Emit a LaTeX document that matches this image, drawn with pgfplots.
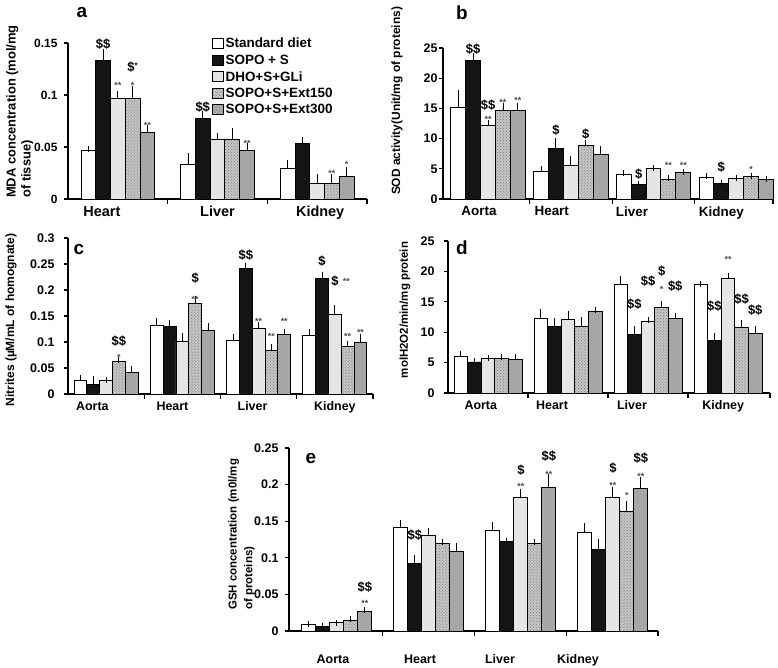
\documentclass[border=0pt]{standalone}
\usepackage{fontspec}
\setmainfont{Liberation Sans}
\usepackage{pgfplots}
\pgfplotsset{compat=1.18}
\usepackage{pgfplotstable}
\usetikzlibrary{patterns}

\newcommand{\fs}[1]{\bfseries\fontsize{#1}{#1}\selectfont}
% significance marks
\newcommand{\dol}[3]{\node[anchor=south,inner sep=0pt,font=\fs{13}] at (axis cs:#1,#2) {#3};}
\newcommand{\st}[3]{\node[anchor=south,inner sep=0pt,font=\fs{9},text=black!70] at (axis cs:#1,#2) {#3};}

% columns: value and (+) error for each diet group
\pgfplotstableread{
x sd sde so soe dh dhe ea eae eb ebe
1 0.047 0.001 0.133 0.008 0.097 0.004 0.097 0.009 0.064 0.004
2 0.033 0.008 0.077 0.005 0.057 0.004 0.057 0.008 0.047 0.004
3 0.029 0.006 0.053 0.004 0.015 0.006 0.015 0.006 0.022 0.006
}\tabA
\pgfplotstableread{
x sd sde so soe dh dhe ea eae eb ebe
1 15.2 2.4 22.9 0.8 12.2 0.4 14.7 0.7 14.7 0.7
2 4.6 0.4 8.4 1.2 5.5 1.1 8.9 0.3 7.3 0.9
3 4.0 0.25 2.4 0.1 5.0 0.05 3.3 0.2 4.4 0.15
4 3.6 0.25 2.6 0.1 3.4 0.05 3.7 0.15 3.3 0.05
}\tabB
\pgfplotstableread{
x sd sde so soe dh dhe ea eae eb ebe
1 0.026 0.005 0.018 0.010 0.026 0.001 0.063 0.002 0.042 0.007
2 0.132 0.008 0.129 0.008 0.101 0.010 0.174 0.008 0.122 0.008
3 0.103 0.007 0.241 0.006 0.127 0.005 0.084 0.006 0.115 0.004
4 0.113 0.007 0.223 0.006 0.153 0.012 0.092 0.005 0.099 0.010
}\tabC
\pgfplotstableread{
x sd sde so soe dh dhe ea eae eb ebe
1 6.0 0.4 5.1 0.2 5.7 0.1 5.7 0.2 5.5 0.5
2 12.2 1.2 10.9 1.0 12.1 0.9 11.0 1.0 13.4 0.3
3 17.8 1.0 9.7 0.9 11.7 0.3 14.1 0.6 12.2 0.5
4 17.8 0.2 8.7 0.7 18.9 0.4 10.7 0.8 9.8 0.7
}\tabD
\pgfplotstableread{
x sd sde so soe dh dhe ea eae eb ebe
1 0.009 0.001 0.006 0.001 0.011 0.0005 0.014 0.003 0.027 0.002
2 0.141 0.007 0.092 0.008 0.130 0.007 0.120 0.002 0.108 0.008
3 0.138 0.007 0.122 0.001 0.182 0.008 0.119 0.003 0.196 0.014
4 0.134 0.009 0.111 0.011 0.183 0.009 0.164 0.010 0.195 0.011
}\tabE

\pgfplotsset{
  organ/.style={
    scale only axis, clip=false,
    axis x line=bottom, axis y line=left,
    axis line style={-, line width=1.3bp},
    ybar=0pt, ymin=0,
    tick align=outside,
    major tick length=4bp, minor tick length=5bp,
    every major x tick/.append style={draw=none},
    every minor x tick/.append style={line width=1.1bp, black},
    every major y tick/.append style={line width=1.1bp, black},
    /pgf/number format/assume math mode=true,
    /pgf/number format/fixed,
    scaled y ticks=false,
    yticklabel={\pgfmathprintnumber{\tick}},
    error bars/y dir=plus, error bars/y explicit,
    error bars/error bar style={line width=0.9bp, black},
    error bars/error mark options={line width=0.9bp, mark size=3bp, black},
  },
  leg/.style={legend image code/.code={\draw[##1] (0bp,-5bp) rectangle (11bp,5bp);}},
  sd/.style={fill=white, draw=black, line width=0.9bp, leg},
  so/.style={fill=black!92, draw=black, line width=0.9bp, leg},
  dh/.style={fill=black!10, draw=black, line width=0.9bp, leg},
  ea/.style={fill=black!22, draw=black, line width=0.9bp,
    postaction={pattern=crosshatch dots, pattern color=black!55}, leg},
  eb/.style={fill=black!35, draw=black, line width=0.9bp, leg},
}

\newcommand{\bars}[1]{%
  \addplot[sd] table[x=x,y=sd,y error=sde]{#1};
  \addplot[so] table[x=x,y=so,y error=soe]{#1};
  \addplot[dh] table[x=x,y=dh,y error=dhe]{#1};
  \addplot[ea] table[x=x,y=ea,y error=eae]{#1};
  \addplot[eb] table[x=x,y=eb,y error=ebe]{#1};
}

\begin{document}
\begin{tikzpicture}
\useasboundingbox (0,0) rectangle (778bp,668bp);

% ---- a: MDA
\begin{axis}[organ, at={(68bp,469bp)}, anchor=south west,
  width=299bp, height=156bp,
  xmin=0.5, xmax=3.5, ymax=0.15, bar width=0.148,
  xtick={0.84,2.0,3.03}, xticklabels={Heart,Liver,Kidney},
  minor xtick={1.5,2.5,3.5},
  ytick={0,0.05,0.1,0.15},
  xticklabel style={font=\fs{14.5}},
  yticklabel style={font=\fs{12}, xshift=-3bp},
  legend style={at={(0.48,1.045)}, anchor=north west, draw=none, fill=none,
    font=\fs{13.5}, inner sep=0pt, row sep=1.5bp},
  legend cell align=left]
\bars{\tabA}
\legend{Standard diet, SOPO + S, DHO+S+GLi, SOPO+S+Ext150, SOPO+S+Ext300}
\dol{0.852}{0.144}{\$\$}
\st{1.0}{0.106}{**}
\st{1.148}{0.106}{*}
\dol{1.148}{0.121}{\$\raisebox{3bp}{\fs{8}*}}
\st{1.296}{0.068}{**}
\dol{1.852}{0.083}{\$\$}
\st{2.296}{0.050}{**}
\st{3.148}{0.021}{**}
\st{3.296}{0.030}{*}
\end{axis}

% ---- b: SOD
\begin{axis}[organ, at={(443bp,469bp)}, anchor=south west,
  width=330bp, height=151bp,
  xmin=0.455, xmax=4.445, ymax=25, bar width=0.18,
  xtick={0.89,1.77,2.74,3.82}, xticklabels={Aorta,Heart,Liver,Kidney},
  minor xtick={1.5,2.5,3.5,4.445},
  ytick={0,5,10,15,20,25},
  xticklabel style={font=\fs{13.5}},
  yticklabel style={font=\fs{12.5}, xshift=2bp}]
\bars{\tabB}
\dol{0.82}{23.9}{\$\$}
\dol{1.0}{14.6}{\$\$}
\st{1.0}{12.6}{**}
\st{1.18}{15.5}{**}
\st{1.36}{15.8}{**}
\dol{1.82}{10.5}{\$}
\dol{2.18}{9.9}{\$}
\dol{2.82}{3.2}{\$}
\st{3.18}{5.0}{**}
\st{3.36}{5.0}{**}
\dol{3.82}{4.3}{\$}
\st{4.18}{4.3}{*}
\end{axis}

% ---- c: nitrites
\begin{axis}[organ, at={(68bp,274bp)}, anchor=south west,
  width=305bp, height=156bp,
  xmin=0.5, xmax=4.5, ymax=0.3, bar width=0.168,
  xtick={0.82,1.87,2.92,4.0}, xticklabels={Aorta,Heart,Liver,Kidney},
  minor xtick={1.5,2.5,3.5,4.5},
  ytick={0,0.05,0.1,0.15,0.2,0.25,0.3},
  xticklabel style={font=\fs{12.5}},
  yticklabel style={font=\fs{12.5}, xshift=-6bp}]
\bars{\tabC}
\dol{1.168}{0.091}{\$\$}
\st{1.168}{0.064}{*}
\dol{2.168}{0.213}{\$}
\st{2.168}{0.175}{**}
\dol{2.832}{0.256}{\$\$}
\st{3.0}{0.134}{**}
\st{3.168}{0.105}{**}
\st{3.336}{0.134}{**}
\dol{3.832}{0.245}{\$}
\dol{4.0}{0.206}{\$}
\st{4.15}{0.211}{**}
\st{4.168}{0.105}{**}
\st{4.336}{0.113}{**}
\end{axis}

% ---- d: catalase
\begin{axis}[organ, at={(448bp,275bp)}, anchor=south west,
  width=322bp, height=152bp,
  xmin=0.5, xmax=4.525, ymax=25, bar width=0.17,
  xtick={0.91,1.8,2.8,3.94}, xticklabels={Aorta,Heart,Liver,Kidney},
  minor xtick={1.5,2.5,3.5,4.525},
  ytick={0,5,10,15,20,25},
  xticklabel style={font=\fs{12.5}},
  yticklabel style={font=\fs{12.5}, xshift=-6bp}]
\bars{\tabD}
\dol{2.83}{13.65}{\$\$}
\dol{3.0}{17.5}{\$\$}
\dol{3.17}{19.1}{\$}
\st{3.17}{16.5}{*}
\dol{3.34}{16.7}{\$\$}
\dol{3.83}{13.4}{\$\$}
\st{4.0}{21.5}{**}
\dol{4.17}{14.5}{\$\$}
\dol{4.34}{12.7}{\$\$}
\end{axis}

% ---- e: GSH
\begin{axis}[organ, at={(289bp,37bp)}, anchor=south west,
  width=369bp, height=183bp,
  xmin=0.48, xmax=4.49, ymax=0.25, bar width=0.152,
  xtick={0.958,1.904,2.773,3.62}, xticklabels={Aorta,Heart,Liver,Kidney},
  minor xtick={1.5,2.5,3.5,4.49},
  ytick={0,0.05,0.1,0.15,0.2,0.25},
  xticklabel style={font=\fs{12.5}, yshift=-16bp},
  yticklabel style={font=\fs{12.5}, xshift=-3bp}]
\bars{\tabE}
\dol{1.304}{0.052}{\$\$}
\st{1.304}{0.033}{**}
\dol{1.848}{0.124}{\$\$}
\dol{3.0}{0.212}{\$}
\st{3.0}{0.193}{**}
\dol{3.304}{0.232}{\$\$}
\st{3.304}{0.210}{**}
\dol{4.0}{0.215}{\$}
\st{4.0}{0.195}{**}
\st{4.152}{0.181}{*}
\dol{4.304}{0.228}{\$\$}
\st{4.304}{0.207}{**}
\end{axis}

% panel letters
\node[font=\fs{19}] at (82bp,655bp) {a};
\node[font=\fs{19}] at (462bp,655bp) {b};
\node[font=\fs{19}] at (79bp,418bp) {c};
\node[font=\fs{19}] at (462bp,420bp) {d};
\node[font=\fs{19}] at (311bp,209bp) {e};

% axis titles
\node[rotate=90, anchor=north west, align=left, inner sep=0pt,
  font=\bfseries\fontsize{13}{15}\selectfont] at (6bp,470bp)
  {MDA concentration (mol/mg\\of tissue)};
\node[rotate=90, font=\fs{12}] at (397bp,567bp) {SOD activity(Unit/mg of proteins)};
\node[rotate=90, font=\fs{12}] at (11bp,348bp) {Nitrites (µM/mL of homognate)};
\node[rotate=90, font=\fs{11.5}] at (405bp,358bp) {molH2O2/min/mg protein};
\node[rotate=90, anchor=north west, align=left, inner sep=0pt,
  font=\bfseries\fontsize{11.5}{16}\selectfont] at (228bp,58bp)
  {GSH concentration (m0l/mg\\of proteins)};
\end{tikzpicture}
\end{document}
